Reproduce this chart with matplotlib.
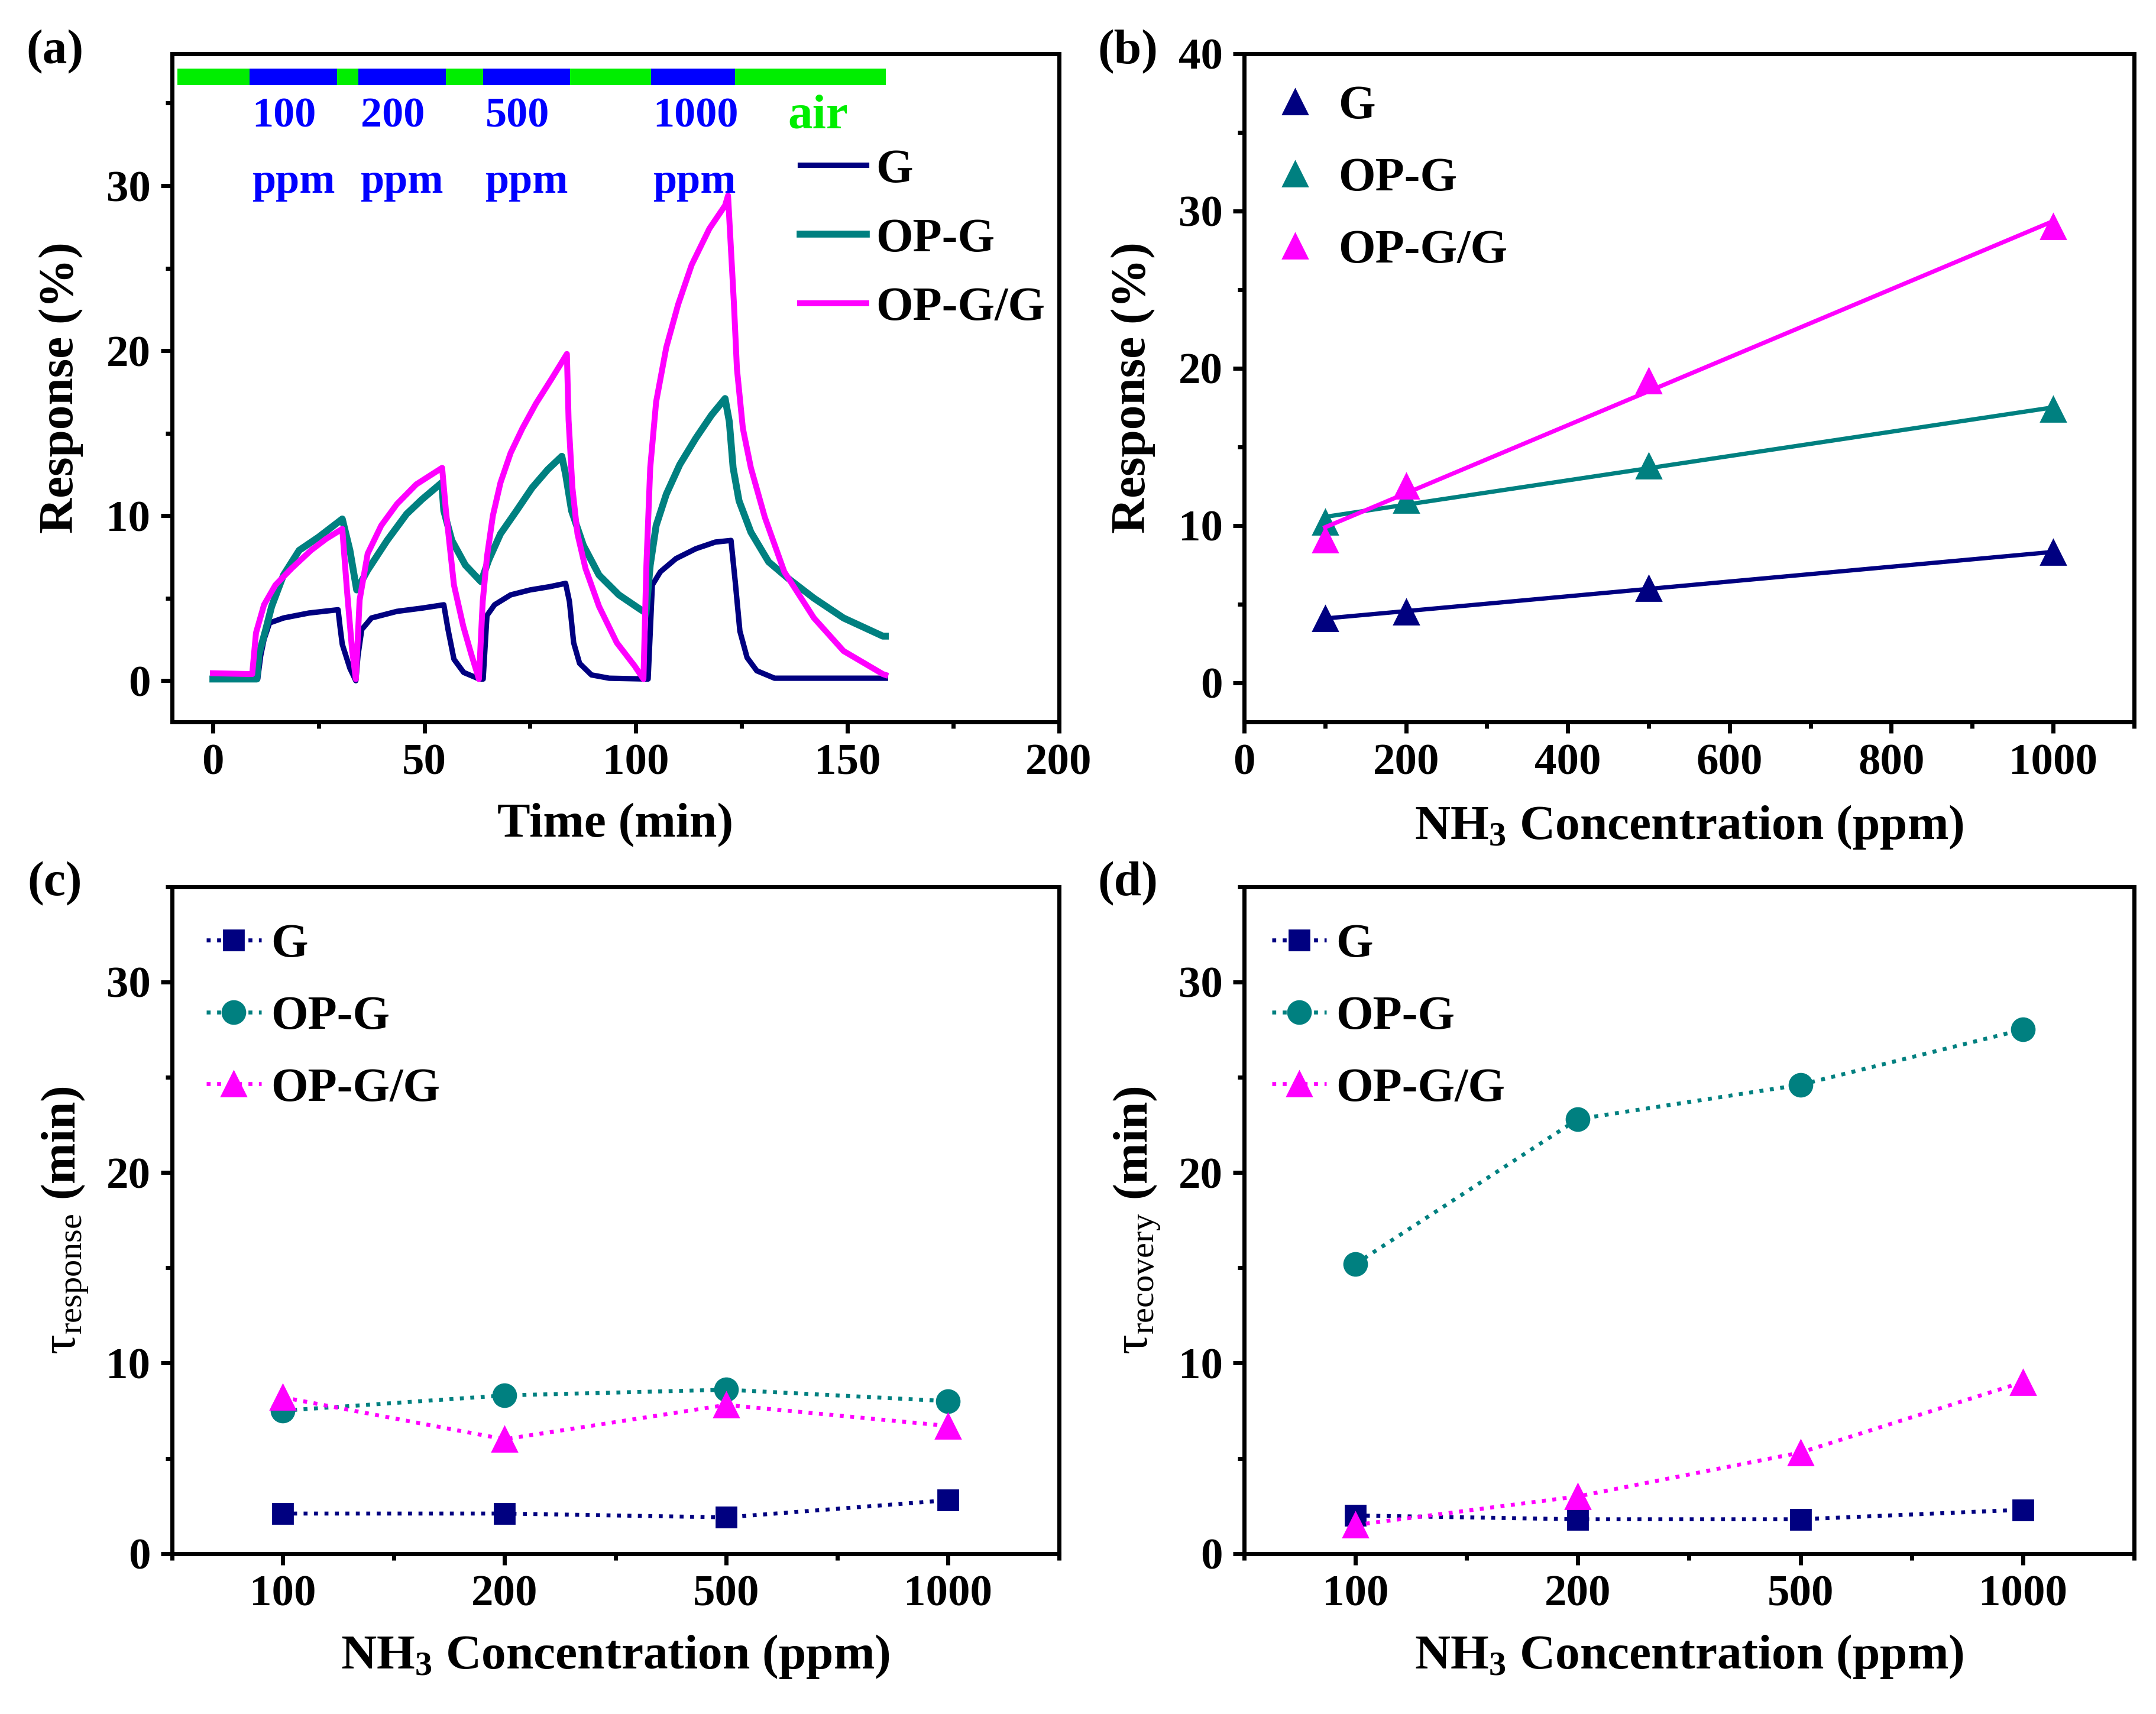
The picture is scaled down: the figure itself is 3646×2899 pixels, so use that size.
import numpy as np
import matplotlib
matplotlib.use("Agg")
import matplotlib.pyplot as plt
from matplotlib.ticker import MultipleLocator


# (a) dynamic response curves (time in min, response in %)
t_G = [0, 10.6, 11.3, 12.1, 13.4, 16.7, 22.7, 29.6, 30.1, 30.6,
       32.4, 33.8, 34.3, 35.2, 37.5, 43.5, 49.5, 54.6, 55.6, 57.0,
       59.3, 63.0, 63.9, 64.8, 66.6, 70.4, 75.0, 79.7, 83.4, 84.3,
       85.3, 86.7, 89.5, 93.7, 102.9, 103.9, 105.8, 109.5, 114.2, 118.8,
       122.5, 123.5, 124.6, 126.3, 128.6, 132.8, 159.0]
r_G = [0.1, 0.1, 1.5, 2.5, 3.5, 3.8, 4.1, 4.3, 3.2, 2.2,
       0.75, 0.0, 1.5, 3.1, 3.8, 4.2, 4.4, 4.6, 3.1, 1.3,
       0.5, 0.1, 0.1, 3.95, 4.6, 5.2, 5.5, 5.7, 5.9, 4.8,
       2.3, 1.05, 0.35, 0.15, 0.1, 5.8, 6.6, 7.4, 8.0, 8.4,
       8.5, 6.0, 3.0, 1.4, 0.6, 0.15, 0.15]

t_OPG = [0, 10.4, 10.9, 12.5, 13.9, 16.7, 20.4, 25.0, 30.6, 32.4,
         34.0, 36.6, 41.2, 45.8, 49.5, 53.2, 54.1, 54.6, 56.5, 59.7,
         63.4, 65.2, 68.0, 71.8, 75.5, 79.2, 82.5, 83.4, 84.8, 87.6,
         91.3, 96.0, 100.6, 102.4, 103.4, 104.8, 107.2, 110.4, 114.2, 117.9,
         121.1, 122.1, 123.0, 124.4, 127.2, 131.4, 136.0, 142.1, 149.1, 158.4,
         159.0]
r_OPG = [0.1, 0.1, 1.6, 3.1, 4.5, 6.4, 7.9, 8.7, 9.8, 7.9,
         5.5, 6.7, 8.5, 10.1, 11.0, 11.8, 12.0, 10.3, 8.5, 7.0,
         6.0, 7.3, 8.9, 10.3, 11.7, 12.8, 13.6, 12.5, 10.3, 8.2,
         6.4, 5.2, 4.4, 4.1, 7.0, 9.4, 11.3, 13.1, 14.7, 16.1,
         17.1, 15.7, 12.9, 10.9, 9.0, 7.2, 6.2, 5.0, 3.8, 2.7,
         2.7]

t_OPGG = [0, 9.3, 10.2, 12.1, 14.8, 18.6, 23.2, 26.8, 30.6, 31.7,
          32.9, 33.8, 34.7, 36.6, 39.8, 43.5, 48.1, 54.2, 55.1, 57.0,
          59.2, 61.1, 62.9, 63.8, 64.8, 66.2, 68.0, 70.4, 73.2, 76.4,
          80.1, 83.7, 84.1, 85.0, 86.2, 88.1, 91.3, 95.5, 99.7, 101.8,
          102.5, 103.4, 104.8, 107.2, 110.0, 113.2, 117.4, 121.1, 121.8, 123.2,
          123.9, 125.3, 127.2, 130.5, 135.1, 142.1, 149.1, 158.4, 159.0]
r_OPGG = [0.45, 0.4, 2.9, 4.6, 5.8, 6.8, 7.9, 8.6, 9.2, 5.5,
          1.9, 0.1, 4.9, 7.7, 9.4, 10.7, 11.9, 12.9, 10.3, 5.8,
          3.3, 1.6, 0.1, 4.8, 7.5, 10.0, 12.0, 13.8, 15.3, 16.8,
          18.3, 19.8, 15.8, 11.7, 8.9, 6.8, 4.5, 2.3, 0.9, 0.1,
          7.0, 12.9, 16.9, 20.2, 22.8, 25.2, 27.4, 28.8, 29.4, 22.8,
          18.9, 15.3, 12.9, 9.9, 6.6, 3.8, 1.8, 0.4, 0.35]

# gas sequence bar on top of (a)
exposure_edges = [-8.4, 8.7, 29.3, 34.4, 55.1, 63.9, 84.4, 103.6, 123.4, 159.1]
exposure_gas = ['air', 'nh3', 'air', 'nh3', 'air', 'nh3', 'air', 'nh3', 'air']

# (b)-(d) vs concentration
conc = [100, 200, 500, 1000]
conc_labels = ['100', '200', '500', '1000']
resp_G = [4.1, 4.5, 6.0, 8.3]
resp_OPG = [10.2, 11.6, 13.8, 17.4]
resp_OPGG = [9.1, 12.5, 19.2, 29.0]

tau_resp_G = [2.1, 2.1, 1.9, 2.8]
tau_resp_OPG = [7.5, 8.3, 8.6, 8.0]
tau_resp_OPGG = [8.2, 6.0, 7.8, 6.7]

tau_rec_G = [2.0, 1.8, 1.8, 2.3]
tau_rec_OPG = [15.2, 22.8, 24.6, 27.5]
tau_rec_OPGG = [1.5, 3.0, 5.3, 9.0]

names = ['G', 'OP-G', 'OP-G/G']
colors = ['#000080', '#008080', '#FF00FF']
green = '#00EE00'
blue = '#0000FF'

plt.rcParams['font.family'] = ['Liberation Serif', 'DejaVu Serif']
plt.rcParams['font.weight'] = 'bold'
plt.rcParams['axes.labelweight'] = 'bold'
plt.rcParams['mathtext.fontset'] = 'custom'
plt.rcParams['mathtext.rm'] = 'Liberation Serif:weight=normal'
plt.rcParams['mathtext.bf'] = 'Liberation Serif:weight=bold'
plt.rcParams['mathtext.it'] = 'Liberation Serif:italic:weight=normal'

TICK_FS = 27
LABEL_FS = 30
LEG_FS = 29

fig = plt.figure(figsize=(18.23, 14.495), dpi=200)

ax_a = fig.add_axes([0.0797, 0.5788, 0.4114, 0.3899])
ax_b = fig.add_axes([0.5771, 0.5788, 0.4127, 0.3899])
ax_c = fig.add_axes([0.0797, 0.0936, 0.4114, 0.3891])
ax_d = fig.add_axes([0.5771, 0.0936, 0.4127, 0.3891])


def style(ax):
    for s in ax.spines.values():
        s.set_linewidth(2.5)
    ax.tick_params(which='both', direction='out', top=False, right=False,
                   width=2.5, labelsize=TICK_FS, pad=6)
    ax.tick_params(which='major', length=7)
    ax.tick_params(which='minor', length=4)


# (a) response vs time
ax_a.plot(t_G, r_G, color=colors[0], lw=3.3, label=names[0])
ax_a.plot(t_OPG, r_OPG, color=colors[1], lw=4.2, label=names[1])
ax_a.plot(t_OPGG, r_OPGG, color=colors[2], lw=3.6, label=names[2])

segs = [(exposure_edges[i], exposure_edges[i + 1] - exposure_edges[i])
        for i in range(len(exposure_gas))]
seg_colors = [green if g == 'air' else blue for g in exposure_gas]
ax_a.broken_barh(segs, (36.1, 1.0), facecolors=seg_colors)

nh3_starts = [exposure_edges[i] for i, g in enumerate(exposure_gas) if g == 'nh3']
for x0, lab in zip(nh3_starts, conc_labels):
    ax_a.text(x0 + 0.5, 34.2, lab, color=blue, fontsize=26, ha='left', va='center')
    ax_a.text(x0 + 0.5, 30.2, 'ppm', color=blue, fontsize=26, ha='left', va='center')
ax_a.text(136, 34.2, 'air', color=green, fontsize=30, ha='left', va='center')

ax_a.set_xlim(-9.7, 200)
ax_a.set_ylim(-2.5, 38)
ax_a.xaxis.set_major_locator(MultipleLocator(50))
ax_a.xaxis.set_minor_locator(MultipleLocator(25))
ax_a.set_yticks([0, 10, 20, 30])
ax_a.yaxis.set_minor_locator(MultipleLocator(5))
ax_a.set_xlabel('Time (min)', fontsize=LABEL_FS, labelpad=12)
ax_a.set_ylabel('Response (%)', fontsize=LABEL_FS, labelpad=14)
style(ax_a)
ax_a.legend(loc='upper left', bbox_to_anchor=(0.708, 0.858), frameon=False,
            fontsize=LEG_FS, handlelength=1.4, handletextpad=0.2,
            labelspacing=0.54, borderpad=0, borderaxespad=0)

# (b) response vs concentration with linear fits
for vals, c, n in zip([resp_G, resp_OPG, resp_OPGG], colors, names):
    k, b = np.polyfit(conc, vals, 1)
    xs = np.array([conc[0], conc[-1]])
    ax_b.plot(xs, k * xs + b, color=c, lw=2.6)
    ax_b.plot(conc, vals, linestyle='none', marker='^', markersize=15,
              color=c, label=n)
ax_b.set_xlim(0, 1100)
ax_b.set_ylim(-2.5, 40)
ax_b.set_xticks([0, 200, 400, 600, 800, 1000])
ax_b.xaxis.set_minor_locator(MultipleLocator(100))
ax_b.set_yticks([0, 10, 20, 30, 40])
ax_b.yaxis.set_minor_locator(MultipleLocator(5))
ax_b.set_xlabel(r'NH$_\mathbf{3}$ Concentration (ppm)', fontsize=LABEL_FS, labelpad=12)
ax_b.set_ylabel('Response (%)', fontsize=LABEL_FS, labelpad=14)
style(ax_b)
ax_b.legend(loc='upper left', bbox_to_anchor=(0.036, 0.953), frameon=False,
            fontsize=LEG_FS, handlelength=0.8, handletextpad=0.5,
            labelspacing=0.6, borderpad=0, borderaxespad=0, numpoints=1)

# (c), (d) response / recovery times
pos = np.arange(len(conc))
markers = ['s', 'o', '^']
msizes = [12.5, 14, 15]


def tau_panel(ax, series, ylabel, leg_x):
    for vals, c, n, m, ms in zip(series, colors, names, markers, msizes):
        ax.plot(pos, vals, linestyle=':', lw=2.4, color=c, marker=m,
                markersize=ms, label=n)
    ax.set_xlim(-0.5, 3.5)
    ax.set_ylim(0, 35)
    ax.set_xticks(pos)
    ax.set_xticklabels(conc_labels)
    ax.set_xticks(np.arange(-0.5, 3.6, 1.0), minor=True)
    ax.set_yticks([0, 10, 20, 30])
    ax.yaxis.set_minor_locator(MultipleLocator(5))
    ax.set_xlabel(r'NH$_\mathbf{3}$ Concentration (ppm)', fontsize=LABEL_FS, labelpad=11)
    ax.set_ylabel(ylabel, fontsize=LABEL_FS, labelpad=10)
    style(ax)
    ax.legend(loc='upper left', bbox_to_anchor=(leg_x, 0.945), frameon=False,
              fontsize=LEG_FS, handlelength=1.15, handletextpad=0.2,
              labelspacing=0.6, borderpad=0, borderaxespad=0)


tau_panel(ax_c, [tau_resp_G, tau_resp_OPG, tau_resp_OPGG],
          r'$\mathrm{\tau}_{\mathrm{response}}$ (min)', 0.039)
tau_panel(ax_d, [tau_rec_G, tau_rec_OPG, tau_rec_OPGG],
          r'$\mathrm{\tau}_{\mathrm{recovery}}$ (min)', 0.031)

# panel letters
fig.text(0.0255, 0.9696, '(a)', fontsize=30, ha='center', va='center')
fig.text(0.523, 0.9696, '(b)', fontsize=30, ha='center', va='center')
fig.text(0.0255, 0.4843, '(c)', fontsize=30, ha='center', va='center')
fig.text(0.523, 0.4843, '(d)', fontsize=30, ha='center', va='center')

plt.savefig('out.png', dpi=200)
plt.close()
